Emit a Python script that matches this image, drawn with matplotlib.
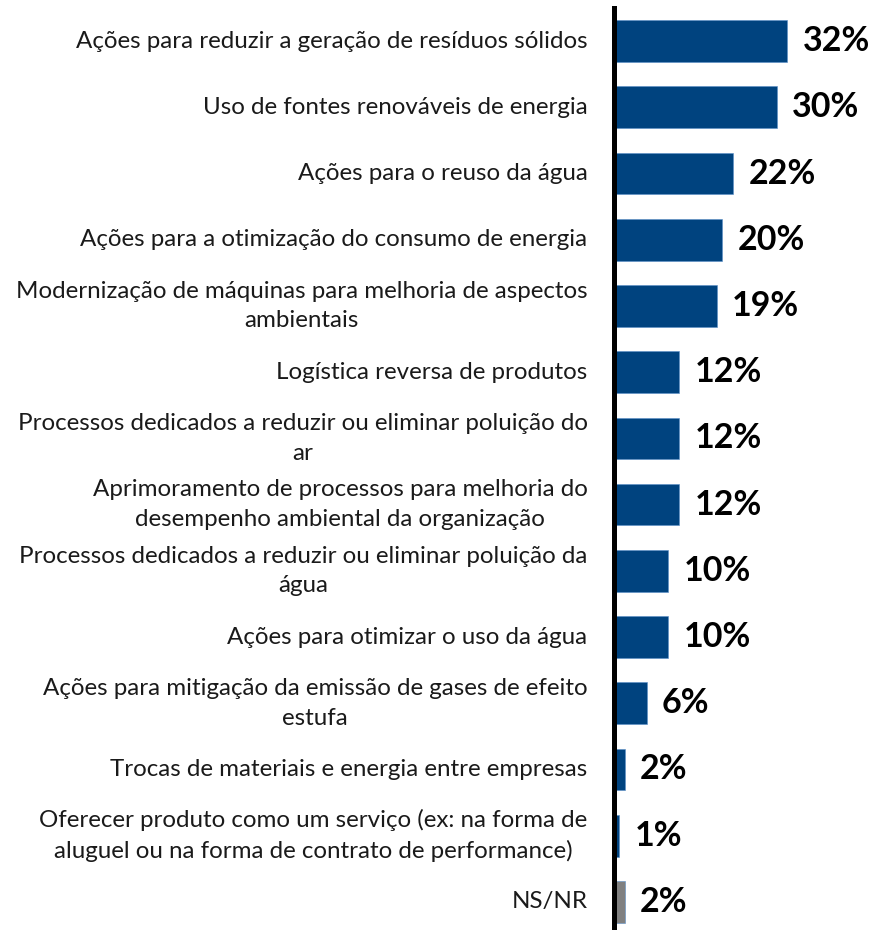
import matplotlib.pyplot as plt

categorias = [
    "Ações para reduzir a geração de resíduos sólidos",
    "Uso de fontes renováveis de energia",
    "Ações para o reuso da água",
    "Ações para a otimização do consumo de energia",
    "Modernização de máquinas para melhoria de aspectos\nambientais",
    "Logística reversa de produtos",
    "Processos dedicados a reduzir ou eliminar poluição do\nar",
    "Aprimoramento de processos para melhoria do\ndesempenho ambiental da organização",
    "Processos dedicados a reduzir ou eliminar poluição da\nágua",
    "Ações para otimizar o uso da água",
    "Ações para mitigação da emissão de gases de efeito\nestufa",
    "Trocas de materiais e energia entre empresas",
    "Oferecer produto como um serviço (ex: na forma de\naluguel ou na forma de contrato de performance)",
    "NS/NR",
]
valores = [32, 30, 22, 20, 19, 12, 12, 12, 10, 10, 6, 2, 1, 2]
cores = ["#00437F"] * 13 + ["#808080"]

plt.rcParams['font.family'] = ['Lato', 'DejaVu Sans']

fig = plt.figure(figsize=(8.74, 9.30), dpi=100)
ax = fig.add_axes([614 / 874, -5 / 930, 1 - 614 / 874, 927 / 930])

y = list(range(len(categorias)))
ax.barh(y, valores, height=0.63, color=cores, edgecolor="#5B8FC7", linewidth=0.4)

# rótulos de valor, em negrito, à direita das barras
for yi, v in zip(y, valores):
    ax.annotate(f"{v}%", xy=(v, yi), xytext=(11, 0), textcoords="offset points",
                ha="left", va="center", fontsize=24.5, fontweight="bold")

# nomes das categorias à esquerda do eixo
for yi, c in zip(y, categorias):
    ax.annotate(c, xy=(0, yi), xytext=(-19, 0), textcoords="offset points",
                ha="right", va="center", multialignment="center",
                fontsize=17.4, color="#1a1a1a", linespacing=1.5)

ax.set_xlim(0, 48)
ax.set_ylim(13.5, -0.5)
ax.set_xticks([])
ax.set_yticks([])
for s in ["top", "right", "bottom"]:
    ax.spines[s].set_visible(False)
ax.spines["left"].set_linewidth(3.6)
ax.spines["left"].set_color("black")

fig.savefig("out.png", dpi=100)
